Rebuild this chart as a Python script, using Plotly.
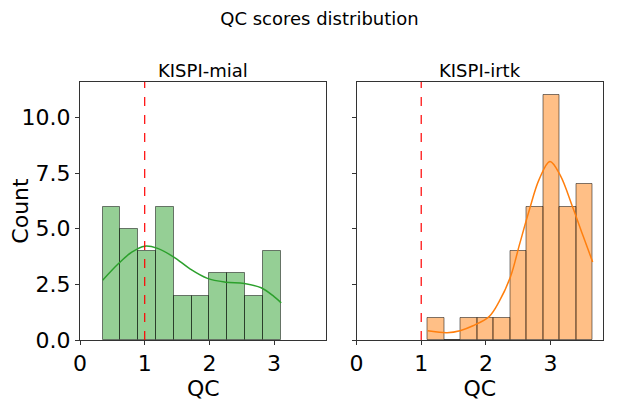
import numpy as np
import plotly.graph_objects as go
from plotly.subplots import make_subplots

# Histogram bins and counts
mial_edges = np.linspace(0.35, 3.10, 11)
mial_counts = [6, 5, 4, 6, 2, 2, 3, 3, 2, 4]
irtk_edges = np.linspace(1.10, 3.65, 11)
irtk_counts = [1, 0, 1, 1, 1, 4, 6, 11, 6, 7]

# KDE curves (scaled to counts)
mial_kde_x = [0.35, 0.6, 0.8, 1.0, 1.2, 1.45, 1.7, 1.97, 2.25, 2.54, 2.8, 3.0, 3.11]
mial_kde_y = [2.69, 3.45, 3.95, 4.22, 4.12, 3.73, 3.2, 2.77, 2.6, 2.54, 2.35, 1.95, 1.67]
irtk_kde_x = [1.10, 1.25, 1.40, 1.6, 1.8, 2.05, 2.2, 2.38, 2.52, 2.67, 2.82, 2.99, 3.15, 3.34, 3.5, 3.65]
irtk_kde_y = [0.42, 0.36, 0.33, 0.42, 0.64, 1.05, 1.7, 2.84, 4.3, 5.83, 7.2, 8.03, 7.4, 5.98, 4.7, 3.51]

threshold = 1.0

panels = [
    ("KISPI-mial", mial_edges, mial_counts, mial_kde_x, mial_kde_y,
     "rgba(44,160,44,0.5)", "#2ca02c"),
    ("KISPI-irtk", irtk_edges, irtk_counts, irtk_kde_x, irtk_kde_y,
     "rgba(255,127,14,0.5)", "#ff7f0e"),
]

fig = make_subplots(rows=1, cols=2, shared_yaxes=True, horizontal_spacing=0.0574,
                    subplot_titles=[p[0] for p in panels])

for i, (name, edges, counts, kx, ky, fill, line) in enumerate(panels, start=1):
    centers = (edges[:-1] + edges[1:]) / 2
    widths = np.diff(edges)
    fig.add_trace(
        go.Bar(x=centers, y=counts, width=widths, marker=dict(
            color=fill, line=dict(color="rgba(0,0,0,0.5)", width=1)),
            showlegend=False, hoverinfo="x+y"),
        row=1, col=i,
    )
    fig.add_trace(
        go.Scatter(x=kx, y=ky, mode="lines", line=dict(color=line, width=1.5, shape="spline"),
                   showlegend=False),
        row=1, col=i,
    )
    fig.add_shape(type="line", x0=threshold, x1=threshold, y0=0, y1=1,
                  xref=f"x{i if i > 1 else ''}", yref=f"y{i if i > 1 else ''} domain",
                  line=dict(color="red", width=1.2, dash="dash"))

axis_style = dict(showline=True, linecolor="#333", linewidth=1, mirror=True,
                  ticks="outside", ticklen=4, tickcolor="#333", showgrid=False,
                  zeroline=False, automargin=False,
                  tickfont=dict(size=22, color="black"))

fig.update_xaxes(range=[0, 3.81], tickvals=[0, 1, 2, 3],
                 title=dict(text="QC", font=dict(size=22, color="black"), standoff=0),
                 **axis_style)
fig.update_yaxes(range=[0, 11.6], tickvals=[0, 2.5, 5, 7.5, 10], tickformat=".1f",
                 **axis_style)
fig.update_yaxes(title=dict(text="Count", font=dict(size=22, color="black"), standoff=0),
                 row=1, col=1)
fig.update_yaxes(showticklabels=False, row=1, col=2)

fig.update_annotations(font=dict(size=18, color="black"), yshift=-1)

# the page body adds an 8px offset, so margins are trimmed by 8 on left/top
fig.update_layout(
    width=623, height=415,
    margin=dict(l=72, r=28, t=74, b=83),
    title=dict(text="QC scores distribution", x=0.5, xanchor="center", y=0.974,
               yanchor="middle", font=dict(size=18, color="black")),
    font=dict(family="DejaVu Sans", color="black"),
    plot_bgcolor="white", paper_bgcolor="white",
    bargap=0,
)

fig.write_html("out.html")
